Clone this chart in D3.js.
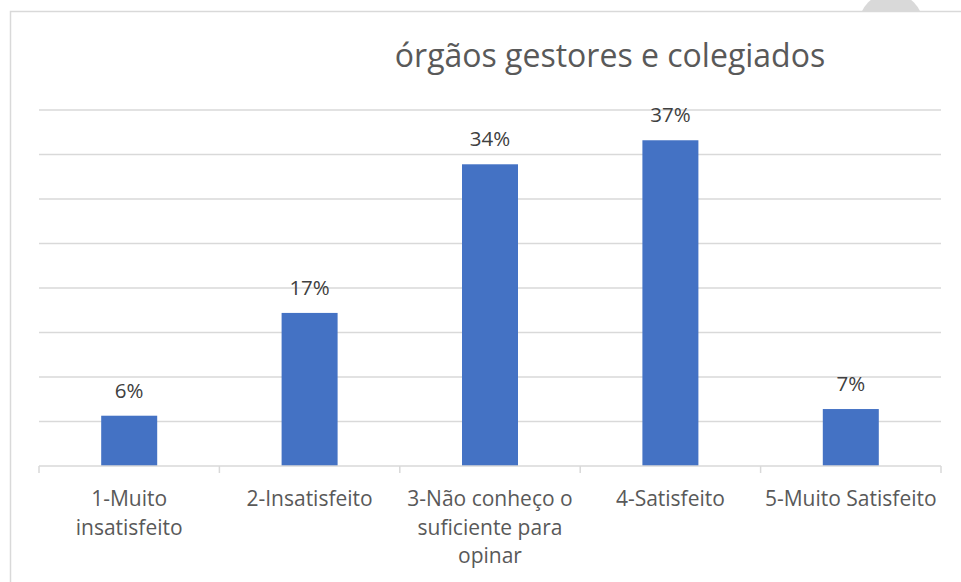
<!DOCTYPE html>
<html>
<head>
<meta charset="utf-8">
<script src="https://cdn.jsdelivr.net/npm/d3@7"></script>
<style>
  body { margin: 0; background: #fff; }
  svg { display: block; font-family: "Open Sans", "Noto Sans", sans-serif; }
</style>
</head>
<body>
<div id="chart"></div>
<script>
// chart data
var categories = ["1-Muito insatisfeito", "2-Insatisfeito", "3-Não conheço o suficiente para opinar", "4-Satisfeito", "5-Muito Satisfeito"];
var catLines = [["1-Muito", "insatisfeito"], ["2-Insatisfeito"], ["3-Não conheço o", "suficiente para", "opinar"], ["4-Satisfeito"], ["5-Muito Satisfeito"]];
var values = [5.65, 17.2, 33.9, 36.6, 6.4];
var valueLabels = ["6%", "17%", "34%", "37%", "7%"];
var gridTicks = [0, 5, 10, 15, 20, 25, 30, 35, 40];
var title = "órgãos gestores e colegiados";

var w = 961;
var h = 582;
var margin = { left: 39, right: 20, top: 110, bottom: 116 };

var svg = d3.select("#chart")
    .append("svg")
    .attr("width", w)
    .attr("height", h);

// little grey circle peeking behind the chart frame
svg.append("circle")
    .attr("cx", 891)
    .attr("cy", 25.5)
    .attr("r", 32.5)
    .style("fill", "#d9d9d9");

// chart frame
svg.append("rect")
    .attr("x", 10.5)
    .attr("y", 11.5)
    .attr("width", 1000)
    .attr("height", 1000)
    .style("fill", "#fff")
    .style("stroke", "#d9d9d9")
    .style("stroke-width", 1.5);

var x = d3.scaleBand()
    .domain(categories)
    .range([margin.left, w - margin.right])
    .paddingInner(0)
    .paddingOuter(0);

var y = d3.scaleLinear()
    .domain([0, 40])
    .range([h - margin.bottom, margin.top]);

// gridlines
svg.append("g")
    .selectAll("line")
    .data(gridTicks.slice(1))
    .enter()
    .append("line")
    .attr("x1", margin.left)
    .attr("x2", w - margin.right)
    .attr("y1", function (d) { return y(d); })
    .attr("y2", function (d) { return y(d); })
    .style("stroke", "#d9d9d9")
    .style("stroke-width", 1.5);

// bars
var barW = 56;
svg.append("g")
    .selectAll("rect")
    .data(values)
    .enter()
    .append("rect")
    .attr("x", function (d, i) { return x(categories[i]) + x.bandwidth() / 2 - barW / 2; })
    .attr("y", function (d) { return y(d); })
    .attr("width", barW)
    .attr("height", function (d) { return y(0) - y(d); })
    .style("fill", "#4472c4");

// x axis: baseline + ticks at category boundaries
var axis = svg.append("g");
axis.append("line")
    .attr("x1", margin.left)
    .attr("x2", w - margin.right)
    .attr("y1", y(0))
    .attr("y2", y(0))
    .style("stroke", "#d9d9d9")
    .style("stroke-width", 1.5);

var bounds = categories.map(function (c) { return x(c); }).concat([w - margin.right]);
axis.selectAll(".tick")
    .data(bounds)
    .enter()
    .append("line")
    .attr("class", "tick")
    .attr("x1", function (d) { return d; })
    .attr("x2", function (d) { return d; })
    .attr("y1", y(0))
    .attr("y2", y(0) + 7)
    .style("stroke", "#d9d9d9")
    .style("stroke-width", 1.5);

// category labels
var catText = axis.selectAll(".cat")
    .data(catLines)
    .enter()
    .append("text")
    .attr("class", "cat")
    .attr("text-anchor", "middle")
    .style("font-size", "21px")
    .style("fill", "#595959");

catText.each(function (lines, i) {
    var cx = x(categories[i]) + x.bandwidth() / 2;
    d3.select(this).selectAll("tspan")
        .data(lines)
        .enter()
        .append("tspan")
        .attr("x", cx)
        .attr("y", function (d, j) { return y(0) + 40 + j * 28.5; })
        .text(function (d) { return d; });
});

// value labels
svg.append("g")
    .selectAll("text")
    .data(values)
    .enter()
    .append("text")
    .attr("x", function (d, i) { return x(categories[i]) + x.bandwidth() / 2; })
    .attr("y", function (d) { return y(d) - 18; })
    .attr("text-anchor", "middle")
    .style("font-size", "20.5px")
    .style("fill", "#404040")
    .text(function (d, i) { return valueLabels[i]; });

// title
svg.append("text")
    .attr("x", 610)
    .attr("y", 67)
    .attr("text-anchor", "middle")
    .style("font-size", "32px")
    .style("fill", "#595959")
    .text(title);
</script>
</body>
</html>
